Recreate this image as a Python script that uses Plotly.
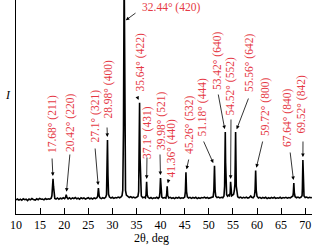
import plotly.graph_objects as go

# ---- data ----
two_theta = [
    10.0, 10.3, 10.6, 10.9, 11.2, 11.5, 11.8, 12.1, 12.4, 12.7, 13.0, 13.3, 13.6, 14.0, 14.3, 14.6,
    14.9, 15.2, 15.5, 15.8, 16.1, 16.4, 16.7, 17.0, 17.3,
    17.45, 17.58, 17.68, 17.78, 17.9, 18.05,
    18.3, 18.6, 18.9, 19.2, 19.5, 19.8, 20.1,
    20.3, 20.42, 20.55,
    20.8, 21.1, 21.4, 21.7, 22.0, 22.3, 22.6, 22.9, 23.2, 23.5, 23.8, 24.1, 24.4, 24.7, 25.0, 25.3,
    25.6, 25.9, 26.2, 26.5, 26.8,
    26.95, 27.1, 27.25, 27.4, 27.7, 28.0, 28.3, 28.6,
    28.78, 28.88, 28.98, 29.08, 29.2, 29.4, 29.7, 30.0, 30.3, 30.6, 30.9, 31.2, 31.5, 31.8, 32.0,
    32.15, 32.3, 32.44, 32.58, 32.72, 32.9, 33.2, 33.5, 33.8, 34.1, 34.4, 34.7, 35.0, 35.3,
    35.45, 35.54, 35.64, 35.74, 35.85, 36.0, 36.3, 36.6, 36.85,
    36.98, 37.1, 37.22, 37.4, 37.7, 38.0, 38.3, 38.6, 38.9, 39.2, 39.5, 39.75,
    39.86, 39.98, 40.1, 40.25, 40.5, 40.8, 41.1,
    41.25, 41.36, 41.47, 41.7, 42.0, 42.3, 42.6, 42.9, 43.2, 43.5, 43.8, 44.1, 44.4, 44.7, 45.0,
    45.14, 45.26, 45.38, 45.55, 45.8, 46.1, 46.4, 46.7, 47.0, 47.3, 47.6, 47.9, 48.2, 48.5, 48.8,
    49.1, 49.4, 49.7, 50.0, 50.3, 50.6, 50.9,
    51.05, 51.18, 51.31, 51.45, 51.7, 52.0, 52.3, 52.6, 52.9, 53.15,
    53.28, 53.35, 53.42, 53.49, 53.56, 53.7, 53.9, 54.1, 54.3,
    54.44, 54.52, 54.6, 54.75, 54.95, 55.15, 55.3,
    55.42, 55.49, 55.56, 55.63, 55.7, 55.85, 56.0, 56.3, 56.6, 56.9, 57.2, 57.5, 57.8, 58.1, 58.4,
    58.7, 58.9, 59.2, 59.45,
    59.6, 59.72, 59.84, 60.0, 60.3, 60.6, 60.9, 61.2, 61.5, 61.8, 62.1, 62.4, 62.7, 63.0, 63.3,
    63.6, 63.9, 64.2, 64.5, 64.8, 65.1, 65.4, 65.7, 66.0, 66.3, 66.6, 66.9, 67.2, 67.45,
    67.54, 67.64, 67.74, 67.9, 68.2, 68.5, 68.8, 69.1, 69.35,
    69.42, 69.52, 69.62, 69.75, 70.0, 70.3, 70.6, 70.9, 71.2, 71.4,
]
intensity = [
    6.6, 7.0, 6.5, 6.9, 6.4, 7.1, 6.7, 6.9, 6.3, 7.0, 6.6, 7.2, 6.8, 6.5, 7.1, 6.7,
    7.3, 6.9, 7.0, 6.6, 7.2, 6.8, 7.1, 6.9, 7.4,
    8.5, 13.0, 16.4, 13.0, 8.6, 7.3,
    7.0, 7.5, 6.9, 7.4, 7.1, 7.6, 7.2,
    7.9, 9.0, 7.8,
    7.1, 7.6, 7.0, 7.5, 7.2, 7.7, 7.1, 7.4, 6.9, 7.6, 7.2, 7.5, 7.0, 7.3, 7.6, 7.1,
    7.4, 7.0, 7.5, 7.2, 7.6,
    8.4, 12.1, 8.5, 7.6, 7.2, 7.6, 7.3, 7.8,
    9.0, 18.0, 34.6, 18.0, 9.2, 7.9, 7.4, 7.8, 7.3, 7.7, 7.5, 7.9, 7.6, 8.0, 8.6,
    11.0, 40.0, 115.0, 40.0, 11.0, 8.8, 8.0, 7.7, 8.1, 7.6, 7.9, 7.5, 7.8, 8.3,
    10.5, 26.0, 52.0, 26.0, 10.5, 8.4, 7.6, 7.9, 7.5,
    9.0, 15.0, 9.0, 7.8, 7.3, 7.7, 7.2, 7.6, 7.4, 7.8, 7.3, 7.9,
    10.0, 16.8, 10.0, 7.9, 7.4, 7.7, 7.4,
    9.0, 13.0, 8.8, 7.5, 7.8, 7.3, 7.6, 7.2, 7.7, 7.4, 7.8, 7.3, 7.6, 7.4, 7.9,
    10.5, 19.5, 10.5, 8.0, 7.5, 7.8, 7.3, 7.7, 7.4, 7.8, 7.2, 7.6, 7.3, 7.7, 7.5,
    7.9, 7.4, 7.7, 7.3, 7.6, 7.8, 8.0,
    11.0, 22.5, 11.0, 8.3, 7.7, 7.9, 7.5, 7.8, 7.6, 8.4,
    13.0, 24.0, 38.3, 24.0, 13.0, 9.0, 8.3, 8.8, 8.5,
    10.0, 15.0, 10.0, 8.5, 8.8, 9.2, 11.0,
    14.0, 25.0, 38.3, 25.0, 13.0, 9.0, 8.0, 7.6, 7.9, 7.4, 7.8, 7.5, 7.9, 7.4, 7.7,
    8.4, 7.8, 7.6, 8.3,
    11.0, 20.3, 11.0, 8.3, 7.5, 7.8, 7.3, 7.7, 7.4, 7.8, 7.2, 7.6, 7.3, 7.7, 7.4,
    7.8, 7.3, 7.6, 7.4, 7.8, 7.3, 7.7, 7.5, 7.8, 7.4, 7.7, 7.5, 7.9, 8.4,
    10.0, 14.5, 10.0, 8.1, 7.6, 7.9, 7.5, 7.8, 8.5,
    12.0, 25.2, 12.0, 8.4, 7.7, 7.9, 7.5, 7.8, 7.6, 7.7,
]

peak_pos = [17.68, 20.42, 27.1, 28.98, 32.44, 35.64, 37.1, 39.98, 41.36, 45.26,
            51.18, 53.42, 54.52, 55.56, 59.72, 67.64, 69.52]
peak_top = [16.4, 9.0, 12.1, 34.6, 90.0, 52.0, 15.0, 16.8, 13.0, 19.5,
            22.5, 38.3, 15.0, 38.3, 20.3, 14.5, 25.2]
peak_hkl = ["(211)", "(220)", "(321)", "(400)", "(420)", "(422)", "(431)", "(521)", "(440)", "(532)",
            "(444)", "(640)", "(552)", "(642)", "(800)", "(840)", "(842)"]
x_ticks = [10, 15, 20, 25, 30, 35, 40, 45, 50, 55, 60, 65, 70]

# ---- layout helpers (pixel geometry) ----
W, H = 312, 245
ML, MB = 16, 31
PW, PH = W - ML, H - MB
XMIN, XPX = 10.0, 4.82
YMAX = 100.0
XMAX = XMIN + PW / XPX


def px2x(px):
    return XMIN + (px - ML) / XPX


def py2y(py):
    return (PH - py) * YMAX / PH


def px2paper(px):
    return (px - ML) / PW


def py2paper(py):
    return (PH - py) / PH


# label placement: (text centre x px, text top px, text bottom px, arrow tail x px, tail y px)
label_geom = [
    (52, 95, 153, 52, 157),
    (70, 96, 150, 70, 153),
    (95, 90, 143, 95, 147),
    (108, 57, 122, 107, 126),
    None,
    (140, 32, 93, 137, 96),
    (147, 113, 153, 147, 156),
    (161, 92, 150, 160, 153),
    (171, 122, 175, 169, 178),
    (189, 95, 155, 189, 158),
    (202, 78, 137, 203, 140),
    (217, 32, 90, 218, 93),
    (230, 58, 115, 231, 118),
    (249, 33, 93, 249, 97),
    (265, 77, 137, 263, 140),
    (287, 88, 148, 290, 151),
    (301, 72, 137, 303, 140),
]

RED = "#e53945"
FONT = "Liberation Serif"

fig = go.Figure()
fig.add_trace(go.Scatter(x=two_theta, y=intensity, mode="lines",
                         line=dict(color="black", width=1.6), hoverinfo="skip"))

annotations = []
for pos, top, hkl, g in zip(peak_pos, peak_top, peak_hkl, label_geom):
    label = f"{pos}\u00b0 {hkl}"
    if g is None:
        # horizontal label at top for the strongest reflection
        annotations.append(dict(x=px2x(140), y=py2y(7), xref="x", yref="y", text=label,
                                showarrow=False, xanchor="left", yanchor="middle",
                                font=dict(family=FONT, size=11.5, color=RED)))
        annotations.append(dict(x=pos, y=top, xref="x", yref="y", text="",
                                showarrow=True, axref="x", ayref="y",
                                ax=px2x(137), ay=py2y(12), arrowhead=2, arrowsize=0.9,
                                arrowwidth=0.8, arrowcolor="black", standoff=2))
        continue
    cx, ty, by, tx, tyy = g
    annotations.append(dict(x=px2x(cx), y=py2y((ty + by) / 2), xref="x", yref="y", text=label,
                            textangle=-90, showarrow=False, xanchor="center", yanchor="middle",
                            font=dict(family=FONT, size=11.5, color=RED)))
    annotations.append(dict(x=pos, y=top, xref="x", yref="y", text="",
                            showarrow=True, axref="x", ayref="y",
                            ax=px2x(tx), ay=py2y(tyy), arrowhead=2, arrowsize=0.9,
                            arrowwidth=0.8, arrowcolor="black", standoff=3))

# axis titles (paper coordinates so they may sit outside the plot area)
annotations.append(dict(x=px2paper(151), y=py2paper(238), xref="paper", yref="paper",
                        text="2\u03b8, deg", showarrow=False, xanchor="center", yanchor="middle",
                        font=dict(family=FONT, size=12, color="black")))
annotations.append(dict(x=px2paper(8), y=py2paper(95), xref="paper", yref="paper",
                        text="<i>I</i>", showarrow=False, xanchor="center", yanchor="middle",
                        font=dict(family=FONT, size=12, color="black")))

fig.update_layout(
    width=W, height=H,
    margin=dict(l=ML, r=0, t=0, b=MB),
    paper_bgcolor="white", plot_bgcolor="white",
    showlegend=False,
    annotations=annotations,
    xaxis=dict(range=[XMIN, XMAX], tickvals=x_ticks, ticks="inside", ticklen=6,
               tickcolor="black", tickwidth=1, showline=True, linecolor="black", linewidth=1,
               showgrid=False, zeroline=False,
               tickfont=dict(family=FONT, size=12, color="black")),
    yaxis=dict(range=[0, YMAX], showticklabels=False, ticks="", showline=True,
               linecolor="black", linewidth=1, showgrid=False, zeroline=False),
)

fig.write_html("out.html")
